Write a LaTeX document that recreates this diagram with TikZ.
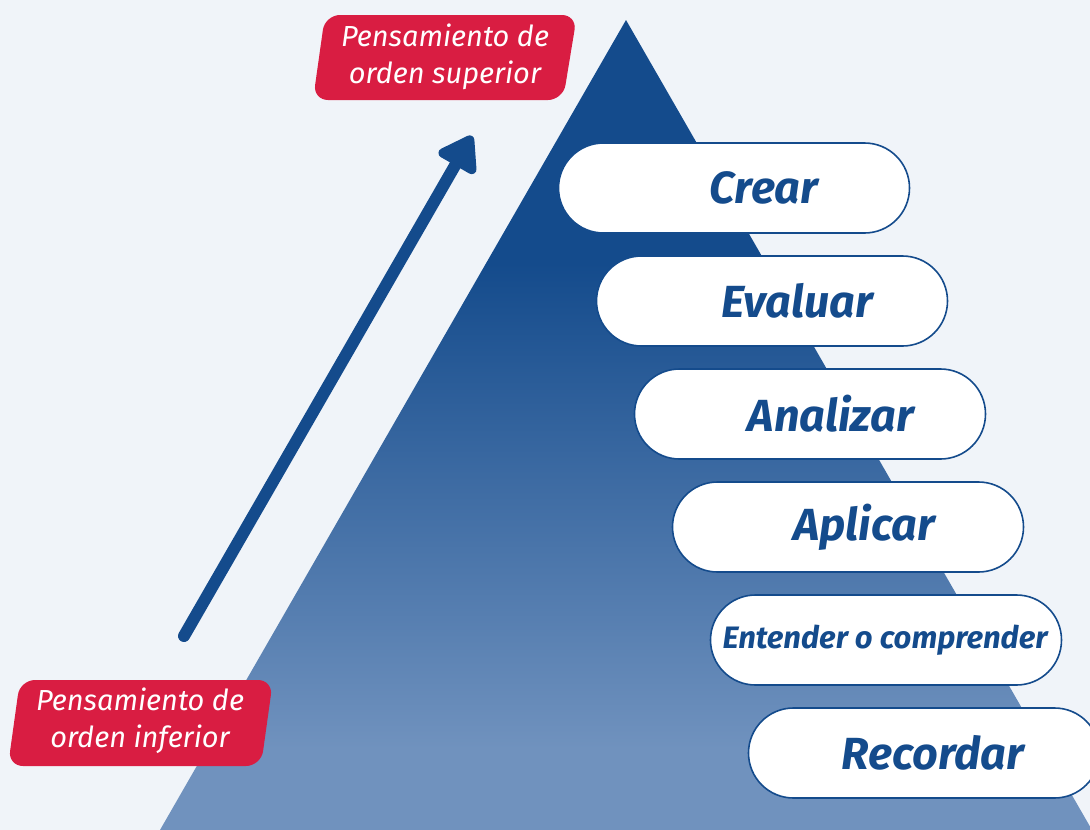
\documentclass[tikz,border=0pt]{standalone}
\usepackage{fontspec}
\setmainfont{Fira Sans}
\usetikzlibrary{arrows.meta}
\definecolor{bgpale}{RGB}{240,244,249}
\definecolor{pyrdark}{RGB}{20,75,140}
\definecolor{pyrmid}{RGB}{78,120,172}
\definecolor{pyrlight}{RGB}{112,146,190}
\definecolor{tagred}{RGB}{217,29,66}
\pgfdeclareverticalshading{pyramid}{100bp}{color(0bp)=(pyrlight); color(30bp)=(pyrlight); color(41bp)=(pyrmid); color(60bp)=(pyrdark); color(100bp)=(pyrdark)}
\begin{document}
\begin{tikzpicture}[x=1pt,y=-1pt,
  pill/.style={draw=pyrdark,line width=1.6pt,fill=white,rounded corners=45pt,
    minimum width=351pt,minimum height=90pt},
  pilltext/.style={text=pyrdark,font=\fontsize{\fs}{\fs}\selectfont\bfseries\itshape},
  tagtext/.style={text=white,align=center,font=\fontsize{29}{37}\selectfont\itshape}]
 \useasboundingbox[fill=bgpale] (0,0) rectangle (1090,830);
 % pyramid
 \shade[shading=pyramid] (626,20) -- (1092,830) -- (160,830) -- cycle;
 % tags
 \fill[tagred,rounded corners=15pt] (325,15) -- (577,15) -- (563,100) -- (313,100) -- cycle;
 \node[tagtext] (upper) at (445,57) {Pensamiento de\\orden superior};
 \fill[tagred,rounded corners=15pt] (20,680) -- (273,680) -- (261,766) -- (8,766) -- cycle;
 \node[tagtext] (lower) at (140,721) {Pensamiento de\\orden inferior};
 % arrow
 \coordinate (tail) at (184,636);
 \coordinate (tip) at (472,136);
 \draw[pyrdark,line width=12pt,line cap=round,
   -{Triangle[length=38pt,width=48pt,round]}] (tail) -- (tip);
 % levels
 \foreach \nm/\word/\dx/\fs [count=\i from 0] in {crear/Crear/30/45,
   evaluar/Evaluar/25/45, analizar/Analizar/21/45, aplicar/Aplicar/16/45,
   entender/{Entender o comprender}/-1/31, recordar/Recordar/9/45} {
   \node[pill] (\nm) at (734+38*\i,188+113*\i) {};
   \node[pilltext] (\nm-txt) at ([xshift=\dx pt]\nm.center) {\word};
 }
\end{tikzpicture}
\end{document}
